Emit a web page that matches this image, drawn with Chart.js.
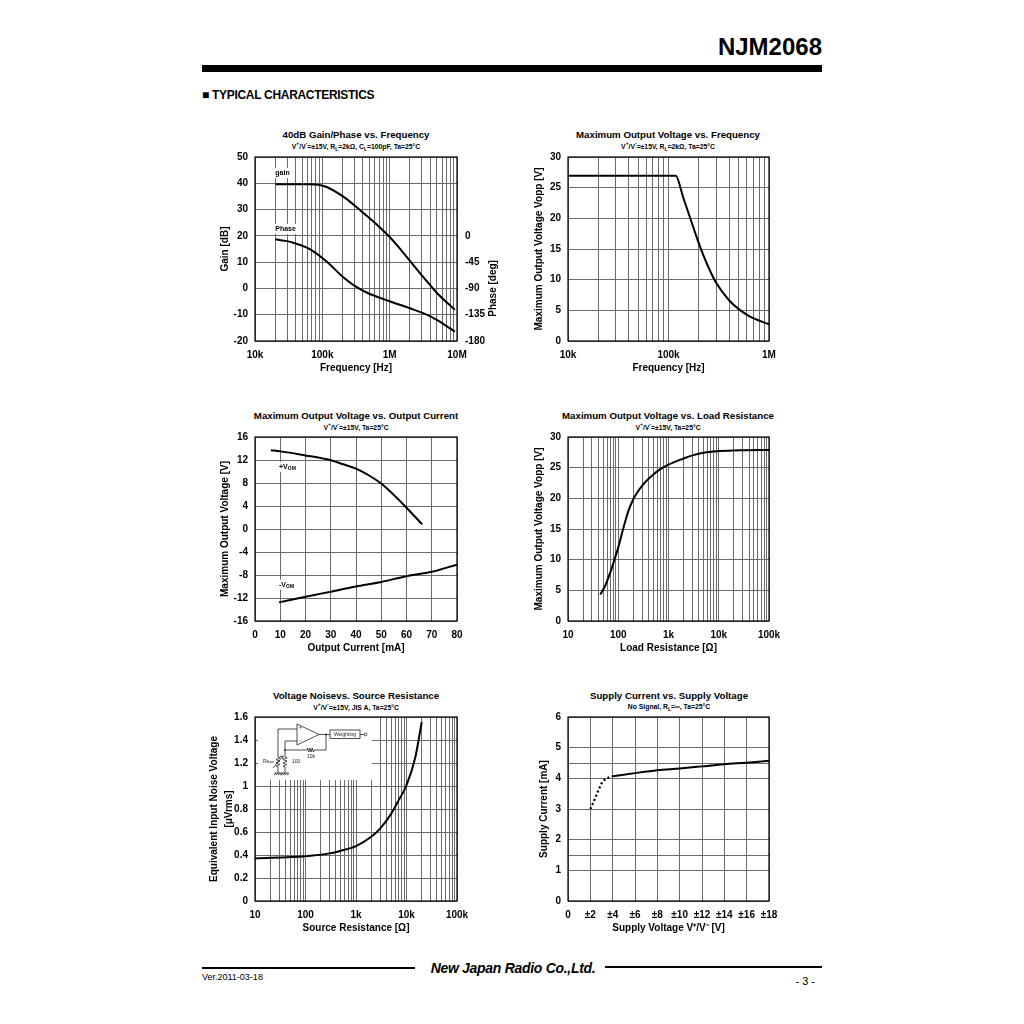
<!DOCTYPE html>
<html>
<head>
<meta charset="utf-8">
<script src="https://cdn.jsdelivr.net/npm/chart.js@4.4.1/dist/chart.umd.min.js"></script>
<style>
body { margin: 0; background: #fff; }
#page { position: relative; width: 1024px; height: 1024px; overflow: hidden; background: #fff;
        font-family: 'Liberation Sans', Arial, sans-serif; color: #000; }
canvas { position: absolute; }
.ttl, .sub { position: absolute; transform: translate(-50%, -50%); white-space: nowrap; font-weight: bold; line-height: 1; }
.ttl { font-size: 9.7px; }
.sub { font-size: 6.8px; }
.sub sup, .sub sub { font-size: 5px; line-height: 0; }
#part { position: absolute; right: 202px; top: 35px; font-size: 24px; font-weight: bold; line-height: 1; }
#bar { position: absolute; left: 202px; top: 65px; width: 620px; height: 7px; background: #000; }
#sect { position: absolute; left: 202px; top: 89px; font-size: 12px; font-weight: bold; letter-spacing: -0.3px; line-height: 1; }
.rule { position: absolute; height: 2px; background: #000; }
#logo { position: absolute; left: 513px; top: 968px; transform: translate(-50%, -50%); font-size: 14px; font-weight: bold;
        font-style: italic; white-space: nowrap; letter-spacing: -0.3px; line-height: 1; }
#ver { position: absolute; left: 202px; top: 973px; font-size: 9px; line-height: 1; }
#pg { position: absolute; right: 209px; top: 976px; font-size: 11px; line-height: 1; }
</style>
</head>
<body>
<div id="page">
  <div id="part">NJM2068</div>
  <div id="bar"></div>
  <div id="sect">&#9632; TYPICAL CHARACTERISTICS</div>

  <div class="ttl" style="left:356px;top:135px">40dB Gain/Phase vs. Frequency</div>
  <div class="sub" style="left:356px;top:147px">V<sup>+</sup>/V<sup>-</sup>=±15V, R<sub>L</sub>=2kΩ, C<sub>L</sub>=100pF, Ta=25°C</div>
  <div class="ttl" style="left:668px;top:135px">Maximum Output Voltage vs. Frequency</div>
  <div class="sub" style="left:668px;top:147px">V<sup>+</sup>/V<sup>-</sup>=±15V, R<sub>L</sub>=2kΩ, Ta=25°C</div>

  <div class="ttl" style="left:356px;top:416px">Maximum Output Voltage vs. Output Current</div>
  <div class="sub" style="left:356px;top:428px">V<sup>+</sup>/V<sup>-</sup>=±15V, Ta=25°C</div>
  <div class="ttl" style="left:668px;top:416px">Maximum Output Voltage vs. Load Resistance</div>
  <div class="sub" style="left:668px;top:428px">V<sup>+</sup>/V<sup>-</sup>=±15V, Ta=25°C</div>

  <div class="ttl" style="left:356px;top:696px">Voltage Noisevs. Source Resistance</div>
  <div class="sub" style="left:356px;top:708px">V<sup>+</sup>/V<sup>-</sup>=±15V, JIS A, Ta=25°C</div>
  <div class="ttl" style="left:669px;top:696px">Supply Current vs. Supply Voltage</div>
  <div class="sub" style="left:669px;top:707px">No Signal, R<sub>L</sub>=∞, Ta=25°C</div>

  <canvas id="c1"></canvas>
  <canvas id="c2"></canvas>
  <canvas id="c3"></canvas>
  <canvas id="c4"></canvas>
  <canvas id="c5"></canvas>
  <canvas id="c6"></canvas>

  <div class="rule" style="left:202px;top:967px;width:213px"></div>
  <div id="logo">New Japan Radio Co.,Ltd.</div>
  <div class="rule" style="left:605px;top:966px;width:217px"></div>
  <div id="ver">Ver.2011-03-18</div>
  <div id="pg">- 3 -</div>
</div>

<script>
// ---- 40dB gain / phase vs frequency ----
const gpDecades = [1e4, 1e5, 1e6, 1e7];
const gpDecadeLabels = ['10k', '100k', '1M', '10M'];
const gainFreq = [20e3, 50e3, 66e3, 87e3, 116e3, 205e3, 363e3, 642e3, 1e6, 1.43e6, 2e6, 3.16e6, 5e6, 9.3e6];
const gainDb = [39.6, 39.6, 39.6, 39.45, 38.6, 34.9, 29.8, 24.35, 19.55, 15.05, 10.5, 4.33, -1.64, -8.1];
const phaseFreq = [20e3, 30e3, 40e3, 66e3, 116e3, 205e3, 287e3, 454e3, 1e6, 2e6, 3.55e6, 5e6, 9.3e6];
const phaseDeg = [-6, -9, -13, -23, -44, -71, -84, -97, -112, -124, -135, -144, -164];

// ---- max output voltage vs frequency ----
const vfDecades = [1e4, 1e5, 1e6];
const vfDecadeLabels = ['10k', '100k', '1M'];
const vfFreq = [10e3, 118e3, 140e3, 164e3, 198e3, 222e3, 259e3, 300e3, 400e3, 500e3, 647e3, 813e3, 1e6];
const vfVpp = [26.95, 26.95, 23.4, 20.1, 16.15, 14.0, 11.45, 9.4, 6.65, 5.2, 3.97, 3.28, 2.74];

// ---- max output voltage vs output current ----
const ioCurPos = [6.3, 10, 20, 30, 35, 40, 45, 50, 55, 60, 66.2];
const ioVomPos = [13.7, 13.5, 12.8, 11.95, 11.25, 10.5, 9.35, 7.9, 5.9, 3.7, 0.8];
const ioCurNeg = [9.5, 20, 30, 40, 50, 60, 70, 80];
const ioVomNeg = [-12.76, -11.8, -10.9, -10.0, -9.2, -8.2, -7.45, -6.2];

// ---- max output voltage vs load resistance ----
const rlDecades = [10, 100, 1000, 10000, 100000];
const rlDecadeLabels = ['10', '100', '1k', '10k', '100k'];
const rlOhm = [44, 56, 70, 84, 100, 127, 160, 200, 250, 340, 500, 700, 1000, 2000, 3000, 5000, 10000, 30000, 100000];
const rlVpp = [4.3, 5.9, 8.0, 10, 12.0, 15.2, 18.0, 19.9, 21.2, 22.6, 23.9, 24.8, 25.5, 26.5, 27.0, 27.45, 27.7, 27.85, 27.9];

// ---- voltage noise vs source resistance ----
const nsDecades = [10, 100, 1000, 10000, 100000];
const nsDecadeLabels = ['10', '100', '1k', '10k', '100k'];
const nsOhm = [10, 100, 300, 500, 1000, 2000, 3000, 5000, 7000, 10000, 15000, 20000];
const nsVn = [0.37, 0.39, 0.414, 0.437, 0.477, 0.558, 0.63, 0.76, 0.877, 1.007, 1.253, 1.556];

// ---- supply current vs supply voltage ----
const scXTicks = [0, 2, 4, 6, 8, 10, 12, 14, 16, 18];
const scXLabels = ['0', '±2', '±4', '±6', '±8', '±10', '±12', '±14', '±16', '±18'];
const scYTicks = [0, 1, 2, 3, 4, 5, 6];
const scYExtraGrid = [1.5, 4.5];
const scVdot = [2, 2.3, 2.6, 3, 3.3, 3.6, 4];
const scIdot = [3.0, 3.24, 3.5, 3.83, 3.96, 4.02, 4.07];
const scV = [4, 6, 8, 10, 12, 14, 16, 18];
const scI = [4.07, 4.17, 4.26, 4.32, 4.39, 4.46, 4.51, 4.57];

// ---------------------------------------------------------------
const GRID = '#6c6c6c';
const FONT = "'Liberation Sans', Arial, sans-serif";

Chart.defaults.font.family = FONT;
Chart.defaults.font.size = 10;
Chart.defaults.font.weight = 'bold';
Chart.defaults.color = '#000';
Chart.defaults.animation = false;
Chart.defaults.plugins.legend.display = false;
Chart.defaults.plugins.tooltip.enabled = false;
if (Chart.defaults.plugins.colors) Chart.defaults.plugins.colors.enabled = false;
Chart.defaults.elements.point.radius = 0;
Chart.defaults.elements.line.borderColor = '#000';
Chart.defaults.elements.line.borderWidth = 2;
Chart.defaults.elements.line.cubicInterpolationMode = 'monotone';

// black frame round every plot area
Chart.register({
  id: 'frame',
  afterDatasetsDraw(chart) {
    const a = chart.chartArea, ctx = chart.ctx;
    ctx.save();
    ctx.strokeStyle = '#000';
    ctx.lineWidth = 1.2;
    ctx.strokeRect(a.left, a.top, a.right - a.left, a.bottom - a.top);
    ctx.restore();
  }
});

function pts(xs, ys) { return xs.map((x, i) => ({ x: x, y: ys[i] })); }

function curve(xs, ys, extra) {
  return Object.assign({ data: pts(xs, ys), borderColor: '#000', borderWidth: 2 }, extra || {});
}

function logTicks(decades) {
  const out = [];
  for (let i = 0; i < decades.length - 1; i++)
    for (let m = 1; m < 10; m++) out.push(decades[i] * m);
  out.push(decades[decades.length - 1]);
  return out;
}

function fitTo(w, h) {
  return function(s) {
    if (w !== null) s.width = w;
    if (h !== null) s.height = h;
    s.paddingLeft = s.paddingRight = s.paddingTop = s.paddingBottom = 0;
  };
}

function logX(decades, labels, title, box) {
  return {
    type: 'logarithmic', min: decades[0], max: decades[decades.length - 1],
    afterBuildTicks: s => { s.ticks = logTicks(decades).map(v => ({ value: v })); },
    ticks: { autoSkip: false, maxRotation: 0, padding: 8,
      callback: v => { const i = decades.indexOf(v); return i >= 0 ? labels[i] : ''; } },
    grid: { color: GRID, drawTicks: false },
    border: { display: false },
    title: { display: true, text: title, padding: 0 },
    afterFit: fitTo(null, box.xH)
  };
}

function linAxis(min, max, step, title, fit, pad) {
  return {
    type: 'linear', min: min, max: max,
    ticks: { stepSize: step, padding: pad || 7, autoSkip: false, maxRotation: 0 },
    grid: { color: GRID, drawTicks: false },
    border: { display: false },
    title: { display: true, text: title, padding: 0 },
    afterFit: fit
  };
}

// place a canvas so that its plot area lands on box l/t/r/b
function place(id, box) {
  const c = document.getElementById(id);
  c.width = box.r - box.l + box.yW + box.rW;
  c.height = box.b - box.t + box.padTop + box.xH;
  c.style.left = (box.l - box.yW) + 'px';
  c.style.top = (box.t - box.padTop) + 'px';
  return c;
}

function tag(ctx, x, y, main, sub) {
  ctx.save();
  ctx.font = 'bold 7px ' + FONT;
  const w1 = ctx.measureText(main).width;
  ctx.font = 'bold 5px ' + FONT;
  const w2 = sub ? ctx.measureText(sub).width : 0;
  ctx.fillStyle = '#fff';
  ctx.fillRect(x - 1, y - 5, w1 + w2 + 2, 10);
  ctx.fillStyle = '#000';
  ctx.textBaseline = 'middle';
  ctx.font = 'bold 7px ' + FONT;
  ctx.fillText(main, x, y);
  if (sub) { ctx.font = 'bold 5px ' + FONT; ctx.fillText(sub, x + w1, y + 2); }
  ctx.restore();
}

const B1 = { l: 255, t: 157, r: 457, b: 341, yW: 36, rW: 48, xH: 33, padTop: 8 };
const B2 = { l: 568, t: 157, r: 769, b: 341, yW: 35, rW: 16, xH: 33, padTop: 8 };
const B3 = { l: 255, t: 437, r: 457, b: 621, yW: 36, rW: 16, xH: 33, padTop: 8 };
const B4 = { l: 568, t: 437, r: 769, b: 621, yW: 35, rW: 18, xH: 33, padTop: 8 };
const B5 = { l: 255, t: 717, r: 457, b: 901, yW: 48, rW: 18, xH: 33, padTop: 8 };
const B6 = { l: 568, t: 717, r: 769, b: 901, yW: 30, rW: 16, xH: 33, padTop: 8 };

// 1. gain / phase
new Chart(place('c1', B1), {
  type: 'line',
  data: { datasets: [
    curve(gainFreq, gainDb, { yAxisID: 'y' }),
    curve(phaseFreq, phaseDeg, { yAxisID: 'y2' })
  ] },
  options: {
    responsive: false,
    layout: { padding: { top: B1.padTop, right: 0, left: 0, bottom: 0 } },
    scales: {
      x: logX(gpDecades, gpDecadeLabels, 'Frequency [Hz]', B1),
      y: linAxis(-20, 50, 10, 'Gain [dB]', fitTo(B1.yW, null)),
      y2: {
        position: 'right', min: -180, max: 135,
        ticks: { stepSize: 45, padding: 8, callback: v => (v <= 0 ? v : '') },
        grid: { display: false, drawTicks: false }, border: { display: false },
        afterFit: fitTo(B1.rW, null)
      }
    }
  },
  plugins: [{
    id: 'gpLabels',
    beforeDatasetsDraw(chart) {
      const x = chart.scales.x.getPixelForValue(20e3), y = chart.scales.y;
      tag(chart.ctx, x, y.getPixelForValue(43.9), 'gain');
      tag(chart.ctx, x, y.getPixelForValue(22.6), 'Phase');
    },
    afterDraw(chart) {
      const ctx = chart.ctx, a = chart.chartArea;
      ctx.save();
      ctx.font = 'bold 10px ' + FONT;
      ctx.textAlign = 'center';
      ctx.textBaseline = 'middle';
      ctx.translate(a.right + 36, chart.scales.y2.getPixelForValue(-90));
      ctx.rotate(-Math.PI / 2);
      ctx.fillText('Phase [deg]', 0, 0);
      ctx.restore();
    }
  }]
});

// 2. max output voltage vs frequency
new Chart(place('c2', B2), {
  type: 'line',
  data: { datasets: [curve(vfFreq, vfVpp)] },
  options: {
    responsive: false,
    layout: { padding: { top: B2.padTop, right: B2.rW, left: 0, bottom: 0 } },
    scales: {
      x: logX(vfDecades, vfDecadeLabels, 'Frequency [Hz]', B2),
      y: linAxis(0, 30, 5, 'Maximum Output Voltage Vopp [V]', fitTo(B2.yW, null))
    }
  }
});

// 3. max output voltage vs output current
new Chart(place('c3', B3), {
  type: 'line',
  data: { datasets: [curve(ioCurPos, ioVomPos), curve(ioCurNeg, ioVomNeg)] },
  options: {
    responsive: false,
    layout: { padding: { top: B3.padTop, right: B3.rW, left: 0, bottom: 0 } },
    scales: {
      x: linAxis(0, 80, 10, 'Output Current [mA]', fitTo(null, B3.xH), 8),
      y: linAxis(-16, 16, 4, 'Maximum Output Voltage [V]', fitTo(B3.yW, null))
    }
  },
  plugins: [{
    id: 'vomLabels',
    afterDatasetsDraw(chart) {
      const x = chart.scales.x.getPixelForValue(9.5), y = chart.scales.y;
      tag(chart.ctx, x, y.getPixelForValue(10.8), '+V', 'OM');
      tag(chart.ctx, x, y.getPixelForValue(-9.7), '-V', 'OM');
    }
  }]
});

// 4. max output voltage vs load resistance
new Chart(place('c4', B4), {
  type: 'line',
  data: { datasets: [curve(rlOhm, rlVpp)] },
  options: {
    responsive: false,
    layout: { padding: { top: B4.padTop, right: B4.rW, left: 0, bottom: 0 } },
    scales: {
      x: logX(rlDecades, rlDecadeLabels, 'Load Resistance [Ω]', B4),
      y: linAxis(0, 30, 5, 'Maximum Output Voltage Vopp [V]', fitTo(B4.yW, null))
    }
  }
});

// test circuit inset of the noise chart, drawn relative to the plot corner
function drawCircuit(ctx, a) {
  const X = v => a.left + v, Y = v => a.top + v;
  const line = p => {
    ctx.beginPath();
    p.forEach((q, i) => (i ? ctx.lineTo(X(q[0]), Y(q[1])) : ctx.moveTo(X(q[0]), Y(q[1]))));
    ctx.stroke();
  };
  const zigV = (x, y0, y1) => {
    const p = [[x, y0]], n = 6, d = (y1 - y0) / n;
    for (let k = 0; k < n; k++) p.push([x + (k % 2 ? -2 : 2), y0 + d * (k + 0.5)]);
    p.push([x, y1]);
    line(p);
  };
  const zigH = (x0, x1, y) => {
    const p = [[x0, y]], n = 6, d = (x1 - x0) / n;
    for (let k = 0; k < n; k++) p.push([x0 + d * (k + 0.5), y + (k % 2 ? 2 : -2)]);
    p.push([x1, y]);
    line(p);
  };
  const ground = (x, y) => {
    line([[x - 3.5, y], [x + 3.5, y]]);
    for (let k = -3; k <= 3; k += 2) line([[x + k + 0.8, y], [x + k - 0.8, y + 2.2]]);
  };
  ctx.save();
  ctx.fillStyle = '#fff';
  ctx.fillRect(X(3), Y(1), 114, 62);
  ctx.strokeStyle = '#222';
  ctx.fillStyle = '#222';
  ctx.lineWidth = 0.8;
  line([[42, 7], [42, 28], [64, 17.5], [42, 7]]);
  line([[42, 12], [23, 12], [23, 40]]);
  line([[42, 24], [30, 24], [30, 40]]);
  line([[30, 33], [52, 33]]);
  zigH(52, 59, 33);
  line([[59, 33], [71, 33], [71, 17.5]]);
  line([[64, 17.5], [75, 17.5]]);
  ctx.strokeRect(X(75), Y(13), 30, 8.5);
  line([[105, 17.5], [109, 17.5]]);
  ctx.beginPath(); ctx.arc(X(110.5), Y(17.5), 1.4, 0, Math.PI * 2); ctx.stroke();
  zigV(23, 40, 50); zigV(30, 40, 50);
  line([[23, 50], [23, 56]]); line([[30, 50], [30, 56]]);
  ground(23, 56); ground(30, 56);
  line([[18, 51], [28, 39]]);
  line([[25, 39.5], [28, 39], [27.6, 42]]);
  line([[14, 45], [19, 45]]);
  ctx.beginPath(); ctx.arc(X(30), Y(33), 0.9, 0, Math.PI * 2); ctx.fill();
  ctx.beginPath(); ctx.arc(X(71), Y(17.5), 0.9, 0, Math.PI * 2); ctx.fill();
  ctx.font = '5px ' + FONT;
  ctx.textBaseline = 'middle';
  ctx.fillText('+', X(44), Y(11));
  ctx.fillText('−', X(44), Y(24));
  ctx.fillText('Rs', X(8), Y(45));
  ctx.fillText('100', X(37), Y(45));
  ctx.fillText('10k', X(52), Y(40));
  ctx.textAlign = 'center';
  ctx.fillText('Weighting', X(90), Y(17.4));
  ctx.restore();
}

// 5. voltage noise vs source resistance
new Chart(place('c5', B5), {
  type: 'line',
  data: { datasets: [curve(nsOhm, nsVn)] },
  options: {
    responsive: false,
    layout: { padding: { top: B5.padTop, right: B5.rW, left: 0, bottom: 0 } },
    scales: {
      x: logX(nsDecades, nsDecadeLabels, 'Source Resistance [Ω]', B5),
      y: (() => {
        const ax = linAxis(0, 1.6, 0.2, ['Equivalent Input Noise Voltage', '[μVrms]'], fitTo(B5.yW, null));
        ax.title.font = { size: 10, weight: 'bold', lineHeight: 1.5 };
        ax.ticks.callback = v => String(Math.round(v * 10) / 10);
        return ax;
      })()
    }
  },
  plugins: [{
    id: 'circuit',
    beforeDatasetsDraw(chart) { drawCircuit(chart.ctx, chart.chartArea); }
  }]
});

// 6. supply current vs supply voltage
new Chart(place('c6', B6), {
  type: 'line',
  data: { datasets: [
    curve(scVdot, scIdot, { borderDash: [2, 2.5], borderWidth: 2.2 }),
    curve(scV, scI)
  ] },
  options: {
    responsive: false,
    layout: { padding: { top: B6.padTop, right: B6.rW, left: 0, bottom: 0 } },
    scales: {
      x: (() => {
        const ax = linAxis(0, 18, 2, 'Supply Voltage V⁺/V⁻ [V]', fitTo(null, B6.xH), 8);
        ax.ticks.callback = v => scXLabels[scXTicks.indexOf(v)];
        return ax;
      })(),
      y: (() => {
        const ax = linAxis(0, 6, 1, 'Supply Current [mA]', fitTo(B6.yW, null));
        ax.afterBuildTicks = s => {
          s.ticks = scYTicks.concat(scYExtraGrid).sort((p, q) => p - q).map(v => ({ value: v }));
        };
        ax.ticks.callback = v => (scYTicks.indexOf(v) >= 0 ? String(v) : '');
        return ax;
      })()
    }
  }
});
</script>
</body>
</html>
